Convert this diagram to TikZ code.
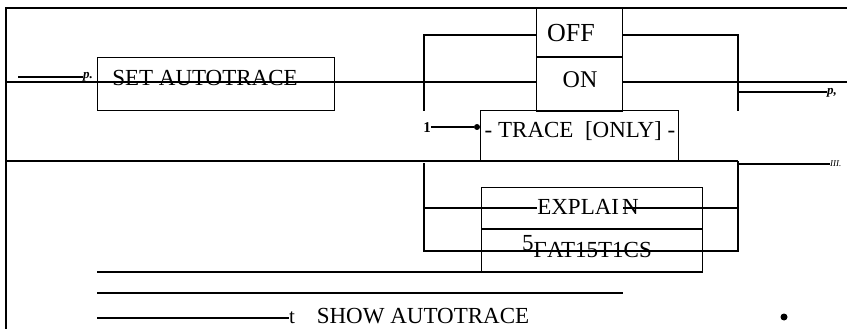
\documentclass[tikz,border=0pt]{standalone}
\usepackage{fontspec}
\setmainfont{Liberation Serif}
\usetikzlibrary{positioning}
\tikzset{
    rail/.style = {line width=1.4pt},
    kwbox/.style = {rectangle, draw=black, line width=1.4pt, anchor=north west, inner sep=0pt},
    kw/.style = {font=\fontsize{23}{27}\selectfont, inner sep=0pt, anchor=base},
    tag/.style = {font=\fontsize{13}{15}\selectfont\bfseries\itshape, inner sep=0pt, anchor=base west},
    blob/.style = {circle, fill=black, inner sep=0pt, minimum size=6pt}
}

\begin{document}
\begin{tikzpicture}[x=1pt, y=-1pt]
\useasboundingbox (0,0) rectangle (847,329);

% Frame
\coordinate (tl) at (6,8);
\coordinate (tr) at (847,8);
\coordinate (bl) at (6,329);
\coordinate (midl) at (6,161);
\coordinate (midr) at (738,161);
\draw [rail] (tr) -- (tl) -- (bl);
\draw [rail] (midl) -- (midr);

% Boxes
\node (setbox) [kwbox, minimum width=237pt, minimum height=53pt] at (97,57) {};
\node (offon) [kwbox, minimum width=86pt, minimum height=103pt] at (536,8) {};
\node (tracebox) [kwbox, minimum width=198pt, minimum height=51pt] at (480,110) {};
\node (exbox) [kwbox, minimum width=221pt, minimum height=85pt] at (481,187) {};
\draw [rail] (offon.west |- 0,57) -- (offon.east |- 0,57);
\draw [rail] (exbox.west |- 0,229) -- (exbox.east |- 0,229);

% Keywords
\node (settext) [kw] at (205,86) {SET AUTOTRACE};
\node (off) [kw, font=\fontsize{26}{30}\selectfont] at (571,42) {OFF};
\node (on) [kw, font=\fontsize{24}{28}\selectfont] at (580,88) {ON};
\node (trace) [kw] at (580,137) {-\ TRACE\ \ [ONLY]\ -};
\node (explain) [kw] at (588,214) {EXPLAI\hspace{3pt}N};
\node (stats) [kw] at (587,257) {\raisebox{7pt}{5}ΓAT15T1CS};
\node (show) [kw] at (423,323) {SHOW AUTOTRACE};
\node (ttag) [kw, font=\fontsize{21}{25}\selectfont] at (292,323) {t};

% Small marks
\node (ptag) [tag] at (83,79) {p.};
\node (pcomma) [tag] at (827,95) {p,};
\node (iii) [tag, font=\fontsize{9}{10}\selectfont\itshape] at (830,166) {III.};
\node (one) [kw, font=\fontsize{15}{17}\selectfont\bfseries] at (427,132) {1};
\node (dot) [blob] at (477,127) {};
\node (enddot) [blob, minimum size=7pt] at (784,317) {};

% Main line
\coordinate (mainl) at (6,82);
\coordinate (mainr) at (847,82);
\coordinate (entry) at (18,77);
\draw [rail] (entry) -- (entry -| ptag.west);
\draw [rail] (mainl) -- (mainl -| offon.west);
\draw [rail] (mainl -| offon.east) -- (mainr);

% Upper branch
\coordinate (brtl) at (424,35);
\coordinate (brbl) at (424,111);
\coordinate (brtr) at (738,35);
\coordinate (brbr) at (738,111);
\coordinate (pexit) at (738,92);
\draw [rail] (brbl) -- (brtl) -- (brtl -| offon.west);
\draw [rail] (brtr -| offon.east) -- (brtr) -- (brbr);
\draw [rail] (pexit) -- (pexit -| pcomma.west);
\draw [rail] (one.east |- dot) -- (dot.west);

% Lower branch
\coordinate (lbt) at (424,163);
\coordinate (lbb) at (424,251);
\coordinate (rbb) at (738,251);
\coordinate (exl) at (424,208);
\coordinate (exn) at (623,208);
\coordinate (exr) at (738,208);
\coordinate (iiil) at (738,164);
\draw [rail] (lbt) -- (lbb) -- (rbb) -- (midr);
\draw [rail] (exl) -- (exl -| explain.west);
\draw [rail] (exn) -- (exr);
\draw [rail] (iiil) -- (iiil -| iii.west);

% Bottom lines
\coordinate (la) at (97,272);
\coordinate (lb) at (97,293);
\coordinate (lbe) at (623,293);
\coordinate (lc) at (97,318);
\draw [rail] (la) -- (la -| exbox.east);
\draw [rail] (lb) -- (lbe);
\draw [line width=2.4pt] (lc) -- (lc -| ttag.west);

\end{tikzpicture}
\end{document}
